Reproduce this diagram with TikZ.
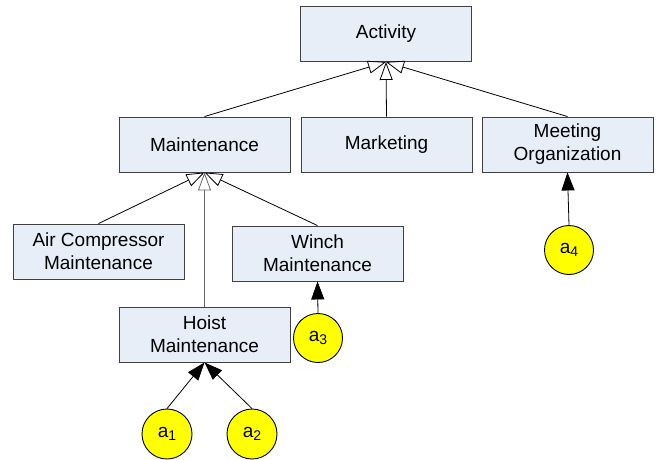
\documentclass[tikz,border=0pt]{standalone}
\usepackage{fontspec}
\setmainfont{Liberation Sans}
\usetikzlibrary{arrows.meta}
\definecolor{boxfill}{HTML}{E8EEF7}
\definecolor{boxline}{HTML}{404040}
\definecolor{ayellow}{HTML}{FFFF00}
\begin{document}
\begin{tikzpicture}[x=1pt,y=-1pt,
  cls/.style={draw=boxline, fill=boxfill, line width=0.9pt, minimum width=171pt, minimum height=55pt, align=center, inner sep=0pt, font=\fontsize{19}{23}\selectfont},
  act/.style={draw=black, fill=ayellow, line width=0.9pt, circle, inner sep=0pt, font=\fontsize{19}{23}\selectfont},
  gen/.style={line width=0.8pt, -{Triangle[open, length=18pt, width=13pt, line width=0.8pt]}},
  inst/.style={line width=0.8pt, -{Triangle[length=18pt, width=13pt]}}
]
\useasboundingbox (0,0) rectangle (656,459);
\node[cls] (activity) at (386,34) {Activity};
\node[cls] (maint) at (204.5,144.5) {Maintenance};
\node[cls] (market) at (386.5,144.5) {Marketing};
\node[cls] (meet) at (567.5,144.5) {Meeting\\Organization};
\node[cls] (air) at (98.5,251.5) {Air Compressor\\Maintenance};
\node[cls] (winch) at (317.5,253.5) {Winch\\Maintenance};
\node[cls] (hoist) at (204.5,334.5) {Hoist\\Maintenance};
\node[act, minimum size=50pt] (a1) at (167,434) {a\raisebox{-3pt}{\fontsize{14}{14}\selectfont 1}};
\node[act, minimum size=50pt] (a2) at (252,434) {a\raisebox{-3pt}{\fontsize{14}{14}\selectfont 2}};
\node[act, minimum size=49pt] (a3) at (318,338) {a\raisebox{-3pt}{\fontsize{14}{14}\selectfont 3}};
\node[act, minimum size=49pt] (a4) at (569,250) {a\raisebox{-3pt}{\fontsize{14}{14}\selectfont 4}};
\draw[gen] (maint.north) -- (activity.south);
\draw[gen] (market.north) -- (activity.south);
\draw[gen] (meet.north) -- (activity.south);
\draw[gen] (air.north) -- (maint.south);
\draw[gen, draw=black!60] (hoist.north) -- (maint.south);
\draw[gen] (winch.north) -- (maint.south);
\draw[inst] (a1.north) -- (hoist.south);
\draw[inst] (a2.north) -- (hoist.south);
\draw[inst] (a3.north) -- (winch.south);
\draw[inst] (a4.north) -- (meet.south);
\end{tikzpicture}
\end{document}
